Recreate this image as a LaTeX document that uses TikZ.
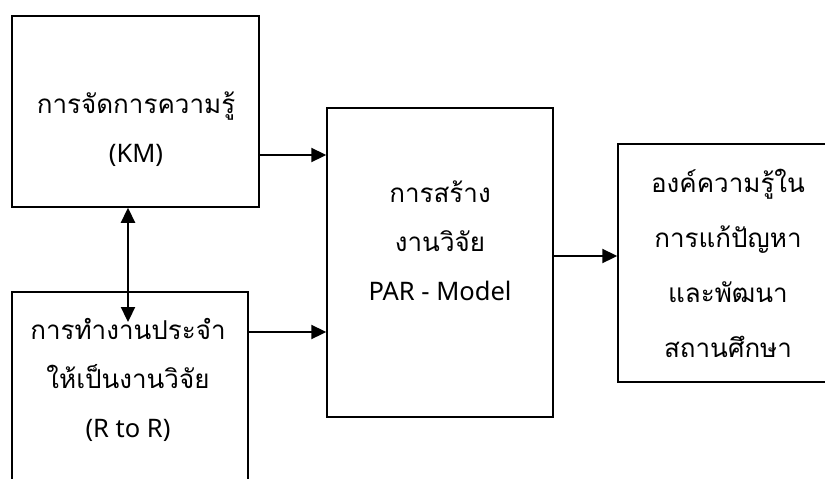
\documentclass[tikz,border=0pt]{standalone}
\usepackage{fontspec}
\setmainfont{Noto Sans}
\newfontfamily\thaifont[Script=Thai]{Loma}
\usetikzlibrary{arrows.meta}
\newcommand\thline[1]{{\thaifont\fontsize{26}{49}\selectfont #1}}
\begin{document}
\begin{tikzpicture}[x=1pt,y=-1pt,
  box/.style={draw, line width=1.5pt, inner sep=0pt},
  tip/.tip={Triangle[length=15pt,width=14pt]},
  flow/.style={line width=2.3pt, -tip},
  twoway/.style={line width=2.3pt, tip-tip},
  boxtext/.style={align=center, anchor=base, inner sep=0pt,
    font=\fontsize{25.5}{49}\selectfont}
]
\useasboundingbox (0,0) rectangle (825,479);
\clip (0,0) rectangle (825,479);

% boxes
\node[box, minimum width=247pt, minimum height=191pt] (km)  at (135.5,111.5) {};
\node[box, minimum width=236pt, minimum height=208pt] (rtr) at (130,396) {};
\node[box, minimum width=226pt, minimum height=309pt] (par) at (440,262.5) {};
\node[box, minimum width=222pt, minimum height=238pt] (out) at (729,263) {};

% box texts (anchored on the baseline of the last line)
\node[boxtext] (kmtext)  at (136,162) {\thline{การจัดการความรู้}\\(KM)};
\node[boxtext] (rtrtext) at (128,437) {\thline{การทำงานประจำ}\\\thline{ให้เป็นงานวิจัย}\\(R to R)};
\node[boxtext] (partext) at (440,300) {\thline{การสร้าง}\\\thline{งานวิจัย}\\PAR - Model};
\node[boxtext, font=\fontsize{25.5}{55}\selectfont] (outtext) at (728,357)
  {\thline{องค์ความรู้ใน}\\\thline{การแก้ปัญหา}\\\thline{และพัฒนา}\\\thline{สถานศึกษา}};

% connectors
\coordinate (lowtip) at (128,322);
\draw[twoway] (km.south -| lowtip) -- (lowtip);
\draw[flow] (km.east |- 0,155) -- (par.west |- 0,155);
\draw[flow] (rtr.east |- 0,332) -- (par.west |- 0,332);
\draw[flow] (par.east |- 0,256) -- (out.west |- 0,256);
\end{tikzpicture}
\end{document}
